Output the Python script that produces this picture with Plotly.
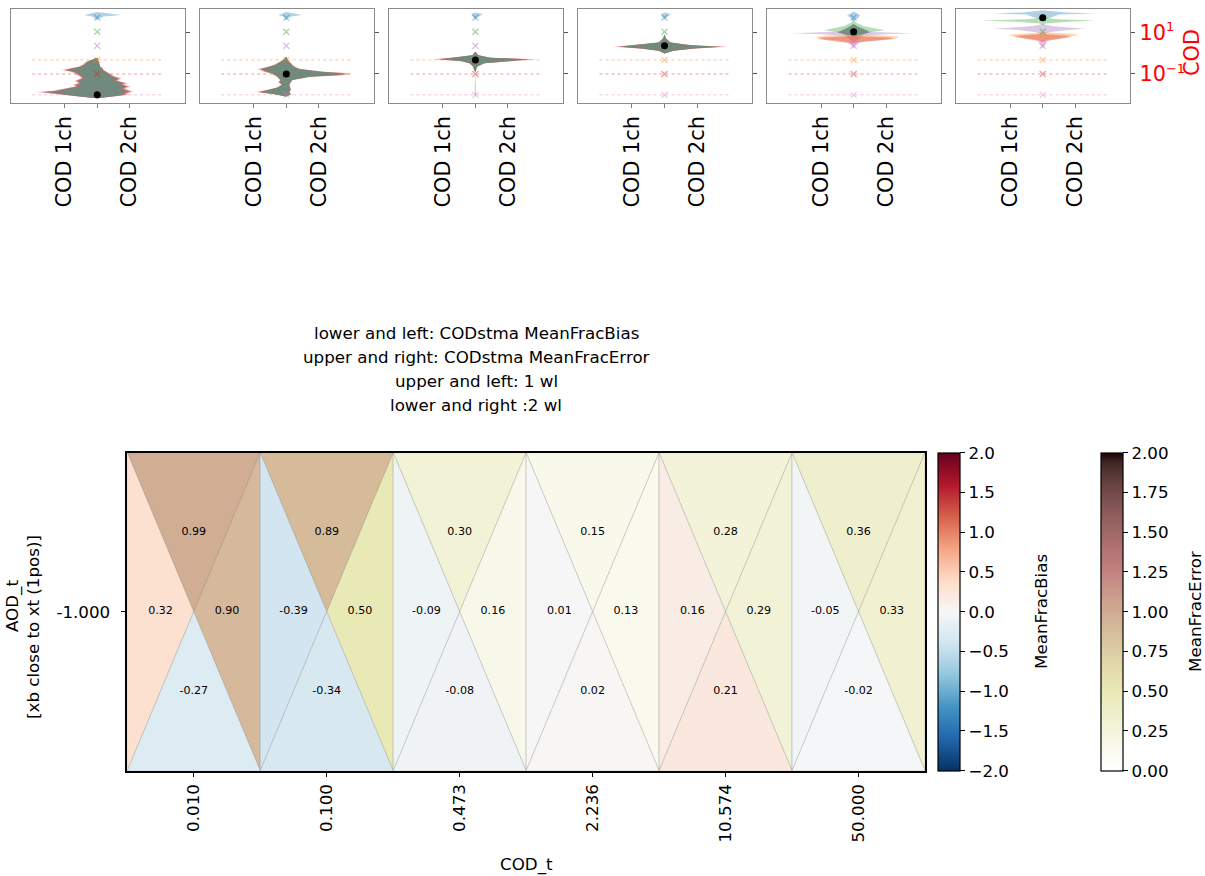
import math
import plotly.graph_objects as go

W, H = 1205, 876
FONT = "DejaVu Sans"

# ---------------------------------------------------------------- data
COD_T = [0.01, 0.1, 0.473, 2.236, 10.574, 50.0]
COD_T_LABELS = ["0.010", "0.100", "0.473", "2.236", "10.574", "50.000"]
AOD_T_LABELS = ["-1.000"]
CHANNELS = ["COD 1ch", "COD 2ch"]

# lower/left: MeanFracBias, upper/right: MeanFracError; upper/left 1 wl, lower/right 2 wl
BIAS_1WL = [0.32, -0.39, -0.09, 0.01, 0.16, -0.05]    # left triangles
BIAS_2WL = [-0.27, -0.34, -0.08, 0.02, 0.21, -0.02]   # bottom triangles
ERROR_1WL = [0.99, 0.89, 0.30, 0.15, 0.28, 0.36]      # top triangles
ERROR_2WL = [0.90, 0.50, 0.16, 0.13, 0.29, 0.33]      # right triangles

# marker colour for each true COD
COD_T_COLORS = ["pink", "red", "orange", "purple", "green", "blue"]
# dotted guide levels and their colours
GUIDE_LEVELS = [0.473, 0.1, 0.01]
GUIDE_COLORS = ["orange", "red", "pink"]

# retrieved-COD density outlines for each true-COD panel:
# (colour, log10(COD) levels top->bottom, 1ch half-width, 2ch half-width)
PANEL_1 = [
    ("blue", [1.97, 1.90, 1.83, 1.75, 1.65, 1.58],
             [0, 0.20, 0.41, 0.15, 0.05, 0], [0, 0.30, 0.74, 0.20, 0.05, 0]),
    ("mix", [-0.22, -0.41, -0.55, -0.65, -0.73, -0.81, -0.90, -1.02, -1.12, -1.21, -1.33, -1.44,
             -1.52, -1.60, -1.68, -1.76, -1.82, -1.87, -1.92, -1.97, -2.03, -2.08, -2.16],
            [0, 0.35, 0.45, 0.60, 0.85, 1.10, 0.80, 0.65, 0.55, 0.50, 0.70, 0.60,
             0.75, 0.70, 0.95, 1.20, 1.45, 1.90, 1.60, 1.40, 1.00, 0.60, 0],
            [0, 0.05, 0.08, 0.10, 0.18, 0.20, 0.30, 0.45, 0.55, 0.75, 0.65, 0.95,
             0.85, 1.05, 0.90, 0.95, 1.10, 1.10, 0.95, 1.00, 0.80, 0.60, 0]),
]
PANEL_2 = [
    ("blue", [1.97, 1.90, 1.83, 1.75, 1.65, 1.58],
             [0, 0.12, 0.24, 0.10, 0.04, 0], [0, 0.25, 0.48, 0.15, 0.04, 0]),
    ("mix", [-0.17, -0.33, -0.45, -0.57, -0.68, -0.76, -0.89, -0.97, -1.05, -1.13, -1.29, -1.40,
             -1.52, -1.65, -1.76, -1.87, -1.97, -2.08],
            [0, 0.10, 0.25, 0.40, 0.65, 0.90, 0.70, 0.50, 0.40, 0.30, 0.20, 0.25,
             0.15, 0.30, 0.60, 0.95, 0.40, 0],
            [0, 0.05, 0.12, 0.20, 0.30, 0.45, 1.20, 2.00, 1.90, 0.80, 0.20, 0.15,
             0.10, 0.12, 0.15, 0.10, 0.15, 0]),
]
PANEL_3 = [
    ("blue", [1.95, 1.88, 1.80, 1.70, 1.60],
             [0, 0.13, 0.10, 0.05, 0], [0, 0.23, 0.15, 0.05, 0]),
    ("mix", [0.06, -0.10, -0.22, -0.30, -0.38, -0.49, -0.65, -0.80, -0.92],
            [0, 0.10, 0.80, 1.30, 0.50, 0.20, 0.07, 0.05, 0],
            [0, 0.10, 0.50, 1.90, 1.20, 0.30, 0.05, 0.03, 0]),
    ("green", [-0.85, -1.20, -1.60, -2.00, -2.08],
              [0, 0.02, 0.02, 0.02, 0], [0, 0.02, 0.02, 0.02, 0]),
]
PANEL_4 = [
    ("blue", [1.95, 1.88, 1.80, 1.70, 1.60],
             [0, 0.10, 0.08, 0.04, 0], [0, 0.20, 0.14, 0.05, 0]),
    ("mix", [0.89, 0.70, 0.51, 0.38, 0.30, 0.22, 0.11, -0.02],
            [0, 0.05, 0.20, 1.00, 1.60, 0.80, 0.20, 0],
            [0, 0.05, 0.20, 0.90, 2.00, 1.00, 0.30, 0]),
]
PANEL_5 = [
    ("blue", [1.99, 1.90, 1.80, 1.70, 1.60, 1.50],
             [0, 0.10, 0.20, 0.10, 0.05, 0], [0, 0.12, 0.20, 0.15, 0.05, 0]),
    ("green", [1.60, 1.45, 1.30, 1.20, 1.10, 1.00, 0.90],
              [0, 0.08, 0.30, 0.60, 0.90, 0.50, 0], [0, 0.08, 0.30, 0.60, 0.95, 0.50, 0]),
    ("purple", [1.05, 1.00, 0.95, 0.90, 0.85, 0.60, 0.45],
               [0, 0.80, 1.90, 1.00, 0.30, 0.08, 0], [0, 0.80, 1.85, 1.00, 0.30, 0.08, 0]),
    ("orange", [0.90, 0.85, 0.78, 0.70, 0.62, 0.55, 0.50],
               [0, 0.80, 1.15, 1.10, 0.60, 0.20, 0], [0, 0.90, 1.40, 1.30, 0.70, 0.20, 0]),
    ("red", [0.82, 0.75, 0.68, 0.60, 0.52, 0.45],
            [0, 0.90, 1.10, 0.70, 0.20, 0], [0, 1.10, 1.25, 0.80, 0.20, 0]),
    ("pink", [0.65, 0.55, 0.45, 0.35, 0.25],
             [0, 0.20, 0.15, 0.08, 0], [0, 0.20, 0.15, 0.08, 0]),
    ("core", [1.40, 1.25, 1.10, 1.00, 0.90, 0.80],
             [0, 0.15, 0.35, 0.50, 0.30, 0], [0, 0.15, 0.40, 0.50, 0.30, 0]),
]
PANEL_6 = [
    ("blue", [2.05, 1.95, 1.90, 1.85, 1.75, 1.65, 1.58],
             [0, 0.60, 1.50, 0.50, 0.35, 0.15, 0], [0, 0.70, 1.65, 0.50, 0.35, 0.15, 0]),
    ("green", [1.70, 1.62, 1.56, 1.50, 1.42, 1.35],
              [0, 0.50, 1.90, 0.80, 0.10, 0], [0, 0.50, 1.65, 0.80, 0.10, 0]),
    ("purple", [1.40, 1.30, 1.22, 1.17, 1.10, 1.00, 0.90],
               [0, 0.30, 1.00, 1.50, 0.70, 0.20, 0], [0, 0.30, 0.90, 1.30, 0.70, 0.20, 0]),
    ("orange", [1.00, 0.93, 0.87, 0.80, 0.70, 0.62, 0.55],
               [0, 0.80, 1.10, 0.80, 0.50, 0.10, 0], [0, 0.90, 1.10, 0.80, 0.50, 0.10, 0]),
    ("red", [0.92, 0.85, 0.78, 0.70, 0.60, 0.50],
            [0, 0.70, 0.90, 0.60, 0.20, 0], [0, 0.70, 0.90, 0.60, 0.20, 0]),
    ("pink", [0.65, 0.55, 0.45, 0.30, 0.25],
             [0, 0.15, 0.10, 0.05, 0], [0, 0.15, 0.10, 0.05, 0]),
]
PANELS = [PANEL_1, PANEL_2, PANEL_3, PANEL_4, PANEL_5, PANEL_6]

# ---------------------------------------------------------------- colours
TAB = {
    "blue": (31, 119, 180), "orange": (255, 127, 14), "green": (44, 160, 44),
    "red": (214, 39, 40), "purple": (148, 103, 189), "brown": (140, 86, 75),
    "pink": (227, 119, 194), "core": (111, 138, 127),
}


def rgba(name, a):
    r, g, b = TAB[name]
    return f"rgba({r},{g},{b},{a})"


RDBU_R = ["#053061", "#2166ac", "#4393c3", "#92c5de", "#d1e5f0", "#f7f7f7",
          "#fddbc7", "#f4a582", "#d6604d", "#b2182b", "#67001f"]


def hex_rgb(h):
    return tuple(int(h[i:i + 2], 16) for i in (1, 3, 5))


def rdbu_r(t):
    t = min(max(t, 0.0), 1.0) * (len(RDBU_R) - 1)
    i = min(int(t), len(RDBU_R) - 2)
    f = t - i
    a, b = hex_rgb(RDBU_R[i]), hex_rgb(RDBU_R[i + 1])
    return tuple(round(a[k] + (b[k] - a[k]) * f) for k in range(3))


def pink_r(t):
    # matplotlib "pink" = sqrt((2*gray + hot)/3), reversed
    x = 1.0 - min(max(t, 0.0), 1.0)
    clip = lambda v: min(max(v, 0.0), 1.0)
    hot = (clip(0.0416 + (1 - 0.0416) * x / 0.365079),
           clip((x - 0.365079) / (0.746032 - 0.365079)),
           clip((x - 0.746032) / (1 - 0.746032)))
    return tuple(round(255 * math.sqrt((2 * x + h) / 3)) for h in hot)


def css(c):
    return f"rgb({c[0]},{c[1]},{c[2]})"


BIAS_MIN, BIAS_MAX = -2.0, 2.0
ERR_MIN, ERR_MAX = 0.0, 2.0
bias_scale = [[k / 40, css(rdbu_r(k / 40))] for k in range(41)]
err_scale = [[k / 40, css(pink_r(k / 40))] for k in range(41)]

fig = go.Figure()

# ---------------------------------------------------------------- top panels
PX0, PSTEP, PW = 10.7, 189.1, 174.0
PY0, PY1 = 9.3, 102.7
X_RANGE = [-2.66, 2.69]
Y_RANGE = [-2.377, 2.10]
GUIDE_HALF = 2.0
MIX_LAYERS = [("orange", 1.0), ("pink", 0.96), ("purple", 0.93), ("red", 0.9), ("brown", 0.87), ("green", 0.84)]


def outline(lev, left, right, s=1.0):
    ys = [10 ** v for v in lev]
    xs = [-w * s for w in left] + [w * s for w in reversed(right)]
    return xs, ys + ys[::-1]


for p, panel in enumerate(PANELS):
    n = p + 1
    xa, ya = f"x{n}", f"y{n}"
    # dotted guides
    for lvl, c in zip(GUIDE_LEVELS, GUIDE_COLORS):
        fig.add_trace(go.Scatter(x=[-GUIDE_HALF, GUIDE_HALF], y=[lvl, lvl], mode="lines",
                                 line=dict(color=rgba(c, 0.45), width=1, dash="dot"),
                                 xaxis=xa, yaxis=ya, hoverinfo="skip"))
    # density outlines
    for colour, lev, left, right in panel:
        if colour == "mix":
            for c, s in MIX_LAYERS:
                xs, ys = outline(lev, left, right, s)
                fig.add_trace(go.Scatter(x=xs, y=ys, mode="lines", fill="toself",
                                         fillcolor=rgba(c, 0.3), line=dict(width=0),
                                         xaxis=xa, yaxis=ya, hoverinfo="skip"))
            xs, ys = outline(lev, left, right, 0.78)
            fig.add_trace(go.Scatter(x=xs, y=ys, mode="lines", fill="toself",
                                     fillcolor=rgba("core", 0.92), line=dict(width=0),
                                     xaxis=xa, yaxis=ya, hoverinfo="skip"))
        else:
            xs, ys = outline(lev, left, right)
            a = 0.9 if colour == "core" else 0.35
            fig.add_trace(go.Scatter(x=xs, y=ys, mode="lines", fill="toself",
                                     fillcolor=rgba(colour, a), line=dict(width=0),
                                     xaxis=xa, yaxis=ya, hoverinfo="skip"))
    # true-COD crosses
    fig.add_trace(go.Scatter(
        x=[0] * len(COD_T), y=COD_T, mode="markers",
        marker=dict(symbol="x-thin", size=6,
                    color=[rgba(c, 0.45) for c in COD_T_COLORS],
                    line=dict(width=1.2, color=[rgba(c, 0.45) for c in COD_T_COLORS])),
        xaxis=xa, yaxis=ya, hoverinfo="skip"))
    # true COD of this panel
    fig.add_trace(go.Scatter(x=[0], y=[COD_T[p]], mode="markers",
                             marker=dict(color="black", size=7),
                             xaxis=xa, yaxis=ya, hoverinfo="skip"))

    x0 = PX0 + PSTEP * p
    last = p == len(PANELS) - 1
    fig.update_layout(**{
        f"xaxis{n}": dict(
            domain=[x0 / W, (x0 + PW) / W], anchor=ya, range=X_RANGE,
            tickvals=[-1, 1], ticktext=CHANNELS,
            tickangle=-90, ticks="outside", ticklen=4, tickcolor="#7f7f7f",
            minor=dict(tickmode="array", tickvals=[0], ticks="outside", ticklen=4,
                       tickcolor="#7f7f7f", showgrid=False),
            showline=True, mirror=True, linecolor="#8a8a8a", linewidth=1.2,
            showgrid=False, zeroline=False,
            tickfont=dict(family=FONT, size=20.8, color="black")),
        f"yaxis{n}": dict(
            domain=[1 - PY1 / H, 1 - PY0 / H], anchor=xa, type="log", range=Y_RANGE,
            side="right", tickvals=[0.1, 10],
            ticktext=["10<sup><span style='font-size:13px'>\u22121</span></sup>",
                      "10<sup><span style='font-size:13px'>1</span></sup>"],
            showticklabels=last, ticks="outside", ticklen=4, tickcolor="#555555",
            showline=True, mirror=True, linecolor="#8a8a8a", linewidth=1.2,
            showgrid=False, zeroline=False,
            tickfont=dict(family=FONT, size=20.8, color="red")),
    })

# ---------------------------------------------------------------- bottom triangle map
BX0, BX1 = 127.3, 925.0
BY0, BY1 = 452.7, 770.7
tx, ty, tt = [], [], []
for i in range(len(COD_T)):
    l, r, c = i - 0.5, i + 0.5, i
    tris = [
        ([l, r, c], [0.5, 0.5, 0], css(pink_r((ERROR_1WL[i] - ERR_MIN) / (ERR_MAX - ERR_MIN))), ERROR_1WL[i], (c, 0.25)),
        ([r, r, c], [0.5, -0.5, 0], css(pink_r((ERROR_2WL[i] - ERR_MIN) / (ERR_MAX - ERR_MIN))), ERROR_2WL[i], (c + 0.25, 0)),
        ([l, l, c], [0.5, -0.5, 0], css(rdbu_r((BIAS_1WL[i] - BIAS_MIN) / (BIAS_MAX - BIAS_MIN))), BIAS_1WL[i], (c - 0.25, 0)),
        ([l, r, c], [-0.5, -0.5, 0], css(rdbu_r((BIAS_2WL[i] - BIAS_MIN) / (BIAS_MAX - BIAS_MIN))), BIAS_2WL[i], (c, -0.25)),
    ]
    for xs, ys, col, val, (lx, ly) in tris:
        fig.add_trace(go.Scatter(x=xs + [xs[0]], y=ys + [ys[0]], mode="lines", fill="toself",
                                 fillcolor=col, line=dict(color="rgba(110,110,110,0.35)", width=0.7),
                                 xaxis="x7", yaxis="y7", hoverinfo="skip"))
        tx.append(lx)
        ty.append(ly)
        tt.append(f"{val:.2f}")

fig.add_trace(go.Scatter(x=tx, y=ty, text=tt, mode="text",
                         textfont=dict(family=FONT, size=11.1, color="black"),
                         xaxis="x7", yaxis="y7", hoverinfo="skip"))

# colour bars
cb_common = dict(thickness=22, thicknessmode="pixels", len=(BY1 - BY0) / H, lenmode="fraction",
                 y=1 - (BY0 + BY1) / 2 / H, yanchor="middle", xanchor="left", xpad=0, ypad=0,
                 outlinewidth=1.2, outlinecolor="black", ticks="outside", ticklen=5,
                 tickcolor="black", tickfont=dict(family=FONT, size=16.7, color="black"))
bias_ticks = [-2.0, -1.5, -1.0, -0.5, 0.0, 0.5, 1.0, 1.5, 2.0]
err_ticks = [0.0, 0.25, 0.5, 0.75, 1.0, 1.25, 1.5, 1.75, 2.0]
fig.add_trace(go.Scatter(
    x=[0], y=[0], mode="markers", xaxis="x7", yaxis="y7", hoverinfo="skip",
    marker=dict(size=1, opacity=0, color=[0], colorscale=bias_scale, cmin=BIAS_MIN, cmax=BIAS_MAX,
                showscale=True,
                colorbar=dict(x=938 / W, tickvals=bias_ticks,
                              ticktext=[f"{v:.1f}".replace("-", "\u2212") for v in bias_ticks],
                              **cb_common))))
fig.add_trace(go.Scatter(
    x=[0], y=[0], mode="markers", xaxis="x7", yaxis="y7", hoverinfo="skip",
    marker=dict(size=1, opacity=0, color=[0], colorscale=err_scale, cmin=ERR_MIN, cmax=ERR_MAX,
                showscale=True,
                colorbar=dict(x=1101 / W, tickvals=err_ticks,
                              ticktext=[f"{v:.2f}" for v in err_ticks],
                              **cb_common))))

fig.update_layout(
    xaxis7=dict(domain=[BX0 / W, BX1 / W], anchor="y7", range=[-0.5, len(COD_T) - 0.5],
                tickvals=list(range(len(COD_T))), ticktext=COD_T_LABELS, tickangle=-90,
                ticks="outside", ticklen=5, tickwidth=1.3, tickcolor="black",
                showline=True, mirror=True, linecolor="black", linewidth=1.5,
                showgrid=False, zeroline=False,
                tickfont=dict(family=FONT, size=16.7, color="black")),
    yaxis7=dict(domain=[1 - BY1 / H, 1 - BY0 / H], anchor="x7", range=[-0.5, 0.5],
                tickvals=[0], ticktext=AOD_T_LABELS, ticklabelstandoff=7,
                ticks="outside", ticklen=5, tickwidth=1.3, tickcolor="black",
                showline=True, mirror=True, linecolor="black", linewidth=1.5,
                showgrid=False, zeroline=False,
                tickfont=dict(family=FONT, size=16.7, color="black")),
)


def label(text, x, y, size=16.7, color="black", angle=0):
    return dict(text=text, x=x / W, y=1 - y / H, xref="paper", yref="paper",
                textangle=angle, xanchor="center", yanchor="middle", showarrow=False,
                font=dict(family=FONT, size=size, color=color))


annotations = []
title_lines = ["lower and left: CODstma MeanFracBias", "upper and right: CODstma MeanFracError",
               "upper and left: 1 wl", "lower and right :2 wl"]
for k, line in enumerate(title_lines):
    annotations.append(label(line, 476, 333 + 24 * k))
annotations.append(label("AOD_t", 12, 606, angle=-90))
annotations.append(label("[xb close to xt (1pos)]", 33, 627, angle=-90))
annotations.append(label("COD_t", (BX0 + BX1) / 2, 864))
annotations.append(label("MeanFracBias", 1041, 612, angle=-90))
annotations.append(label("MeanFracError", 1195, 612, angle=-90))
annotations.append(label("COD", 1192, 53, size=20.8, color="red", angle=-90))

fig.update_layout(
    width=W, height=H, margin=dict(l=0, r=0, t=0, b=0, pad=0),
    paper_bgcolor="white", plot_bgcolor="white", showlegend=False,
    font=dict(family=FONT, color="black"),
    annotations=annotations,
)

fig.write_html("out.html")
